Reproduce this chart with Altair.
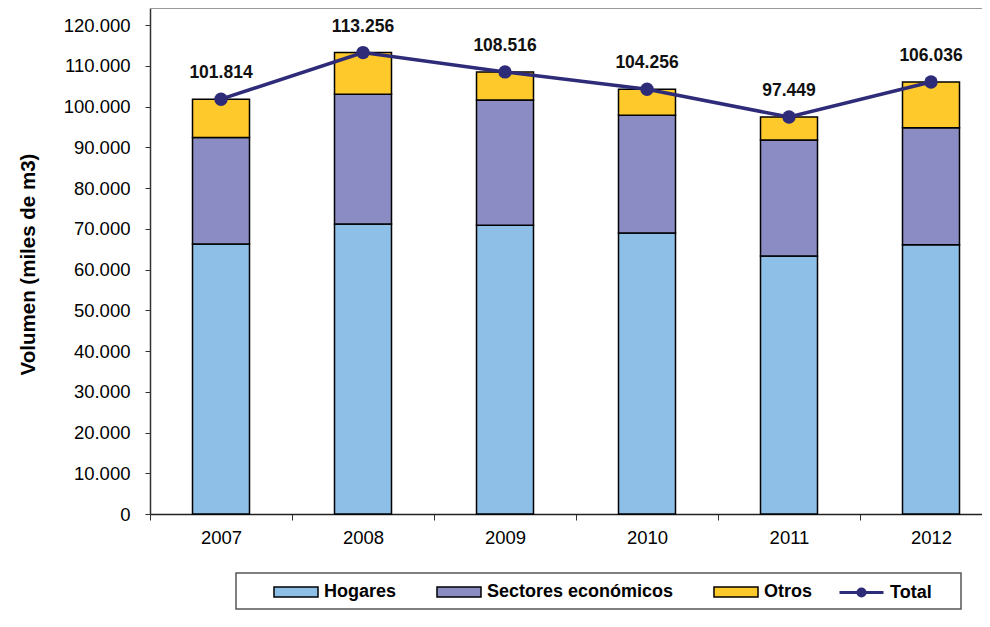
import altair as alt
import pandas as pd

# ---- data ----
years = ["2007", "2008", "2009", "2010", "2011", "2012"]
hogares = [66300, 71200, 70900, 69000, 63300, 66100]
sectores = [26100, 31800, 30700, 28900, 28500, 28700]
otros = [9414, 10256, 6916, 6356, 5649, 11236]
total = [101814, 113256, 108516, 104256, 97449, 106036]
bar_series = ["Hogares", "Sectores económicos", "Otros"]
bar_colors = ["#8EBFE6", "#8A8CC3", "#FEC92A"]
total_name = "Total"
total_color = "#2E2B78"
y_ticks = list(range(0, 120001, 10000))

rows = []
for i, yr in enumerate(years):
    for k, (name, vals) in enumerate(zip(bar_series, [hogares, sectores, otros])):
        rows.append({"anio": yr, "serie": name, "valor": vals[i], "orden": k})
bars_df = pd.DataFrame(rows)
tot_df = pd.DataFrame({"anio": years, "total": total, "serie": [total_name] * len(years)})
one = pd.DataFrame({"a": [0]})

FONT = "Liberation Sans"
W = 832
XR = 852
H = 506
YMAX = 124200

rect_path = "M-1,-0.227H1V0.227H-1Z"
line_path = "M-1,0H1M-0.16,0A0.16,0.16,0,1,0,0.16,0A0.16,0.16,0,1,0,-0.16,0Z"

leg_common = dict(
    title=None, orient="none", legendY=561, direction="horizontal",
    labelFont=FONT, labelFontSize=18, labelFontWeight="bold", labelColor="#000",
    labelLimit=300, labelOffset=5, columnPadding=37, symbolSize=1936, padding=0,
)
fill_legend = alt.Legend(
    legendX=123, symbolType=rect_path, symbolStrokeColor="#000",
    symbolStrokeWidth=1.5, symbolOpacity=1, **leg_common,
)
stroke_legend = alt.Legend(
    legendX=688, symbolType=line_path, symbolStrokeColor=total_color,
    symbolFillColor=total_color, symbolStrokeWidth=3, symbolOpacity=1, **leg_common,
)

xenc = alt.X(
    "anio:N",
    scale=alt.Scale(type="band", range=[0, XR], paddingInner=0, paddingOuter=0),
    axis=alt.Axis(
        title=None, labelAngle=0, labelFont=FONT, labelFontSize=18.5, labelColor="#000",
        tickBand="extent", tickSize=6, tickColor="#333", tickWidth=1,
        domainColor="#222", domainWidth=1.5, labelPadding=8, grid=False,
    ),
)
yscale = alt.Scale(domain=[0, YMAX], nice=False, zero=True)

bars = alt.Chart(bars_df).mark_bar(size=57, stroke="#000", strokeWidth=1.5).encode(
    x=xenc,
    y=alt.Y(
        "valor:Q", stack="zero", scale=yscale,
        axis=alt.Axis(
            values=y_ticks, labelExpr="replace(format(datum.value, ','), ',', '.')",
            labelFont=FONT, labelFontSize=18.5, labelColor="#000", labelPadding=15,
            tickSize=5, tickColor="#333", domainColor="#333", domainWidth=1.5, grid=False,
            title="Volumen (miles de m3)", titleFont=FONT, titleFontSize=20.5,
            titleFontWeight="bold", titleColor="#000", titleAngle=270,
            titleX=-122, titleY=256, titleAlign="center", titleBaseline="middle",
        ),
    ),
    fill=alt.Fill("serie:N", scale=alt.Scale(domain=bar_series, range=bar_colors), legend=fill_legend),
    order=alt.Order("orden:Q"),
)

line = alt.Chart(tot_df).mark_line(strokeWidth=3.5).encode(
    x=alt.X("anio:N"), y=alt.Y("total:Q", scale=yscale),
    stroke=alt.Stroke("serie:N", scale=alt.Scale(domain=[total_name], range=[total_color]), legend=stroke_legend),
)
points = alt.Chart(tot_df).mark_point(filled=True, size=180, opacity=1, color=total_color).encode(
    x=alt.X("anio:N"), y=alt.Y("total:Q", scale=yscale)
)
labels = alt.Chart(tot_df).transform_calculate(
    lab="replace(format(datum.total, ','), ',', '.')"
).mark_text(dy=-26, font=FONT, fontSize=17.5, fontWeight="bold", color="#111").encode(
    x=alt.X("anio:N"), y=alt.Y("total:Q", scale=yscale), text="lab:N"
)

top_rule = alt.Chart(one).mark_rule(color="#999999", strokeWidth=2).encode(
    x=alt.value(0), x2=alt.value(XR), y=alt.value(0)
)
legend_box = alt.Chart(one).mark_rect(fillOpacity=0, stroke="#555555", strokeWidth=1.5).encode(
    x=alt.value(86), x2=alt.value(811), y=alt.value(565), y2=alt.value(601)
)

chart = alt.layer(top_rule, bars, line, points, labels, legend_box).properties(
    width=W, height=H,
    padding={"left": 142, "top": 0, "right": 0, "bottom": 100},
    autosize=alt.AutoSizeParams(type="none"),
    background="white",
).configure_view(stroke=None)

chart.save("out.html", embed_options={"renderer": "svg", "actions": False})
